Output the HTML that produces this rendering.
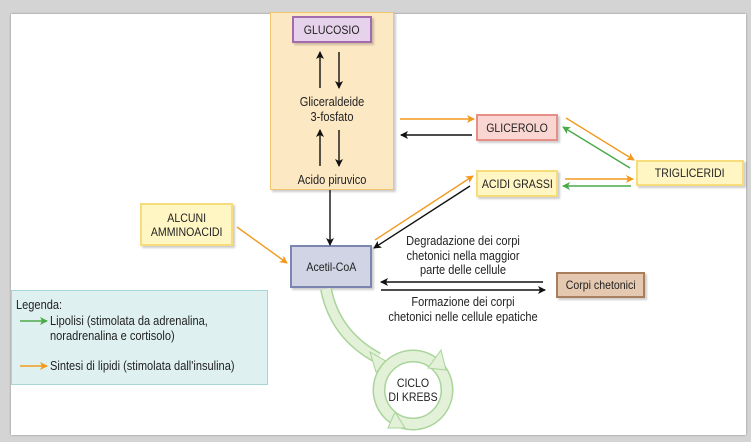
<!DOCTYPE html>
<html><head><style>
body{margin:0;width:751px;height:442px;background:#d4d4d4;position:relative;overflow:hidden;font-family:"Liberation Sans",sans-serif;}
.panel{position:absolute;left:11px;top:14px;width:735px;height:421px;background:#fff;box-shadow:0 0 2px #888;}
.b{position:absolute;box-sizing:border-box;display:flex;align-items:center;justify-content:center;text-align:center;font-size:12px;color:#222;line-height:14px;box-shadow:2px 2px 2px rgba(0,0,0,.2);}
.b span{display:inline-block;transform:scaleX(.88);white-space:nowrap;}
.t{position:absolute;font-size:13px;color:#222;text-align:center;line-height:14.5px;transform:scaleX(.85);white-space:nowrap;}
.l{position:absolute;font-size:13px;color:#222;line-height:15px;transform:scaleX(.85);transform-origin:left;white-space:nowrap;}
</style></head><body>
<div class="panel"></div>
<div class="b" style="left:270px;top:12px;width:124px;height:178px;background:#fde8c4;border:1px solid #f3c46e;"></div>
<div class="b" style="left:292px;top:16px;width:80px;height:27px;background:#e6d2ea;border:2px solid #a46aae;"><span>GLUCOSIO</span></div>
<div class="t" style="left:270px;top:95px;width:124px;">Gliceraldeide<br>3-fosfato</div>
<div class="t" style="left:270px;top:173px;width:124px;">Acido piruvico</div>
<div class="b" style="left:476px;top:114px;width:82px;height:27px;background:#f9d6d2;border:2px solid #e88e88;"><span>GLICEROLO</span></div>
<div class="b" style="left:476px;top:170px;width:82px;height:27px;background:#fff6c4;border:2px solid #f6dc7a;"><span>ACIDI GRASSI</span></div>
<div class="b" style="left:636px;top:160px;width:108px;height:26px;background:#fff6c4;border:2px solid #f6dc7a;"><span>TRIGLICERIDI</span></div>
<div class="b" style="left:140px;top:203px;width:93px;height:43px;background:#fff6c4;border:2px solid #f6dc7a;"><span>ALCUNI<br>AMMINOACIDI</span></div>
<div class="b" style="left:290px;top:245px;width:82px;height:43px;background:#d0d4e4;border:2px solid #7a86b0;"><span>Acetil-CoA</span></div>
<div class="b" style="left:556px;top:272px;width:89px;height:26px;background:#e4c8b0;border:2px solid #a87e5c;"><span>Corpi chetonici</span></div>
<div class="t" style="left:373px;top:234px;width:180px;">Degradazione dei corpi<br>chetonici nella maggior<br>parte delle cellule</div>
<div class="t" style="left:363px;top:295px;width:200px;">Formazione dei corpi<br>chetonici nelle cellule epatiche</div>
<div style="position:absolute;left:11px;top:290px;width:257px;height:95px;box-sizing:border-box;background:#dff0f0;border:1px solid #a6d6d6;"></div>
<div class="l" style="left:16px;top:297px;">Legenda:</div>
<div class="l" style="left:50px;top:313px;">Lipolisi (stimolata da adrenalina,<br>noradrenalina e cortisolo)</div>
<div class="l" style="left:50px;top:358px;">Sintesi di lipidi (stimolata dall'insulina)</div>
<svg width="751" height="442" style="position:absolute;left:0;top:0">
<defs>
<marker id="k" markerWidth="8" markerHeight="8" refX="7" refY="4" orient="auto" markerUnits="userSpaceOnUse"><path d="M0,0L8,4L0,8L2,4z" fill="#111"/></marker>
<marker id="o" markerWidth="8" markerHeight="8" refX="7" refY="4" orient="auto" markerUnits="userSpaceOnUse"><path d="M0,0L8,4L0,8L2,4z" fill="#f29a1f"/></marker>
<marker id="g" markerWidth="8" markerHeight="8" refX="7" refY="4" orient="auto" markerUnits="userSpaceOnUse"><path d="M0,0L8,4L0,8L2,4z" fill="#4aaa48"/></marker>
</defs>
<g stroke-width="1.4" fill="none">
<line x1="320" y1="88" x2="320" y2="52" stroke="#111" marker-end="url(#k)"/>
<line x1="339" y1="52" x2="339" y2="88" stroke="#111" marker-end="url(#k)"/>
<line x1="320" y1="166" x2="320" y2="130" stroke="#111" marker-end="url(#k)"/>
<line x1="339" y1="130" x2="339" y2="166" stroke="#111" marker-end="url(#k)"/>
<line x1="330" y1="190" x2="330" y2="245" stroke="#111" marker-end="url(#k)"/>
<line x1="400" y1="119" x2="474" y2="119" stroke="#f29a1f" marker-end="url(#o)"/>
<line x1="472" y1="135" x2="401" y2="135" stroke="#111" marker-end="url(#k)"/>
<line x1="566" y1="118" x2="634" y2="160" stroke="#f29a1f" marker-end="url(#o)"/>
<line x1="630" y1="168" x2="563" y2="127" stroke="#4aaa48" marker-end="url(#g)"/>
<line x1="565" y1="179" x2="633" y2="179" stroke="#f29a1f" marker-end="url(#o)"/>
<line x1="631" y1="186" x2="563" y2="186" stroke="#4aaa48" marker-end="url(#g)"/>
<line x1="375" y1="240" x2="473" y2="176" stroke="#f29a1f" marker-end="url(#o)"/>
<line x1="470" y1="186" x2="374" y2="248" stroke="#111" marker-end="url(#k)"/>
<line x1="237" y1="227" x2="287" y2="263" stroke="#f29a1f" marker-end="url(#o)"/>
<line x1="543" y1="282" x2="381" y2="282" stroke="#111" marker-end="url(#k)"/>
<line x1="381" y1="290" x2="545" y2="290" stroke="#111" marker-end="url(#k)"/>
<line x1="20" y1="321" x2="47" y2="321" stroke="#4aaa48" marker-end="url(#g)"/>
<line x1="20" y1="366" x2="47" y2="366" stroke="#f29a1f" marker-end="url(#o)"/>
</g>
<path d="M326,289 Q335,335 378,358" stroke="#a9d49a" stroke-width="12" fill="none"/>
<path d="M326,289 Q335,335 378,358" stroke="#e2f1d8" stroke-width="9" fill="none"/>
<path d="M370,352 L391,364 L376,372 z" fill="#e2f1d8" stroke="#a9d49a"/>
<circle cx="413" cy="390" r="34" fill="none" stroke="#a9d49a" stroke-width="13"/>
<circle cx="413" cy="390" r="34" fill="none" stroke="#e2f1d8" stroke-width="10"/>
<path d="M441,350 L446,370 L428,368 z" fill="#e2f1d8" stroke="#a9d49a"/>
<path d="M395,412 L388,428 L405,428 z" fill="#e2f1d8" stroke="#a9d49a"/>
<g font-size="12" text-anchor="middle" fill="#222" font-family="Liberation Sans">
<text x="413" y="387" transform="translate(413 0) scale(.88 1) translate(-413 0)">CICLO</text>
<text x="413" y="401" transform="translate(413 0) scale(.88 1) translate(-413 0)">DI KREBS</text>
</g>
</svg>
</body></html>
